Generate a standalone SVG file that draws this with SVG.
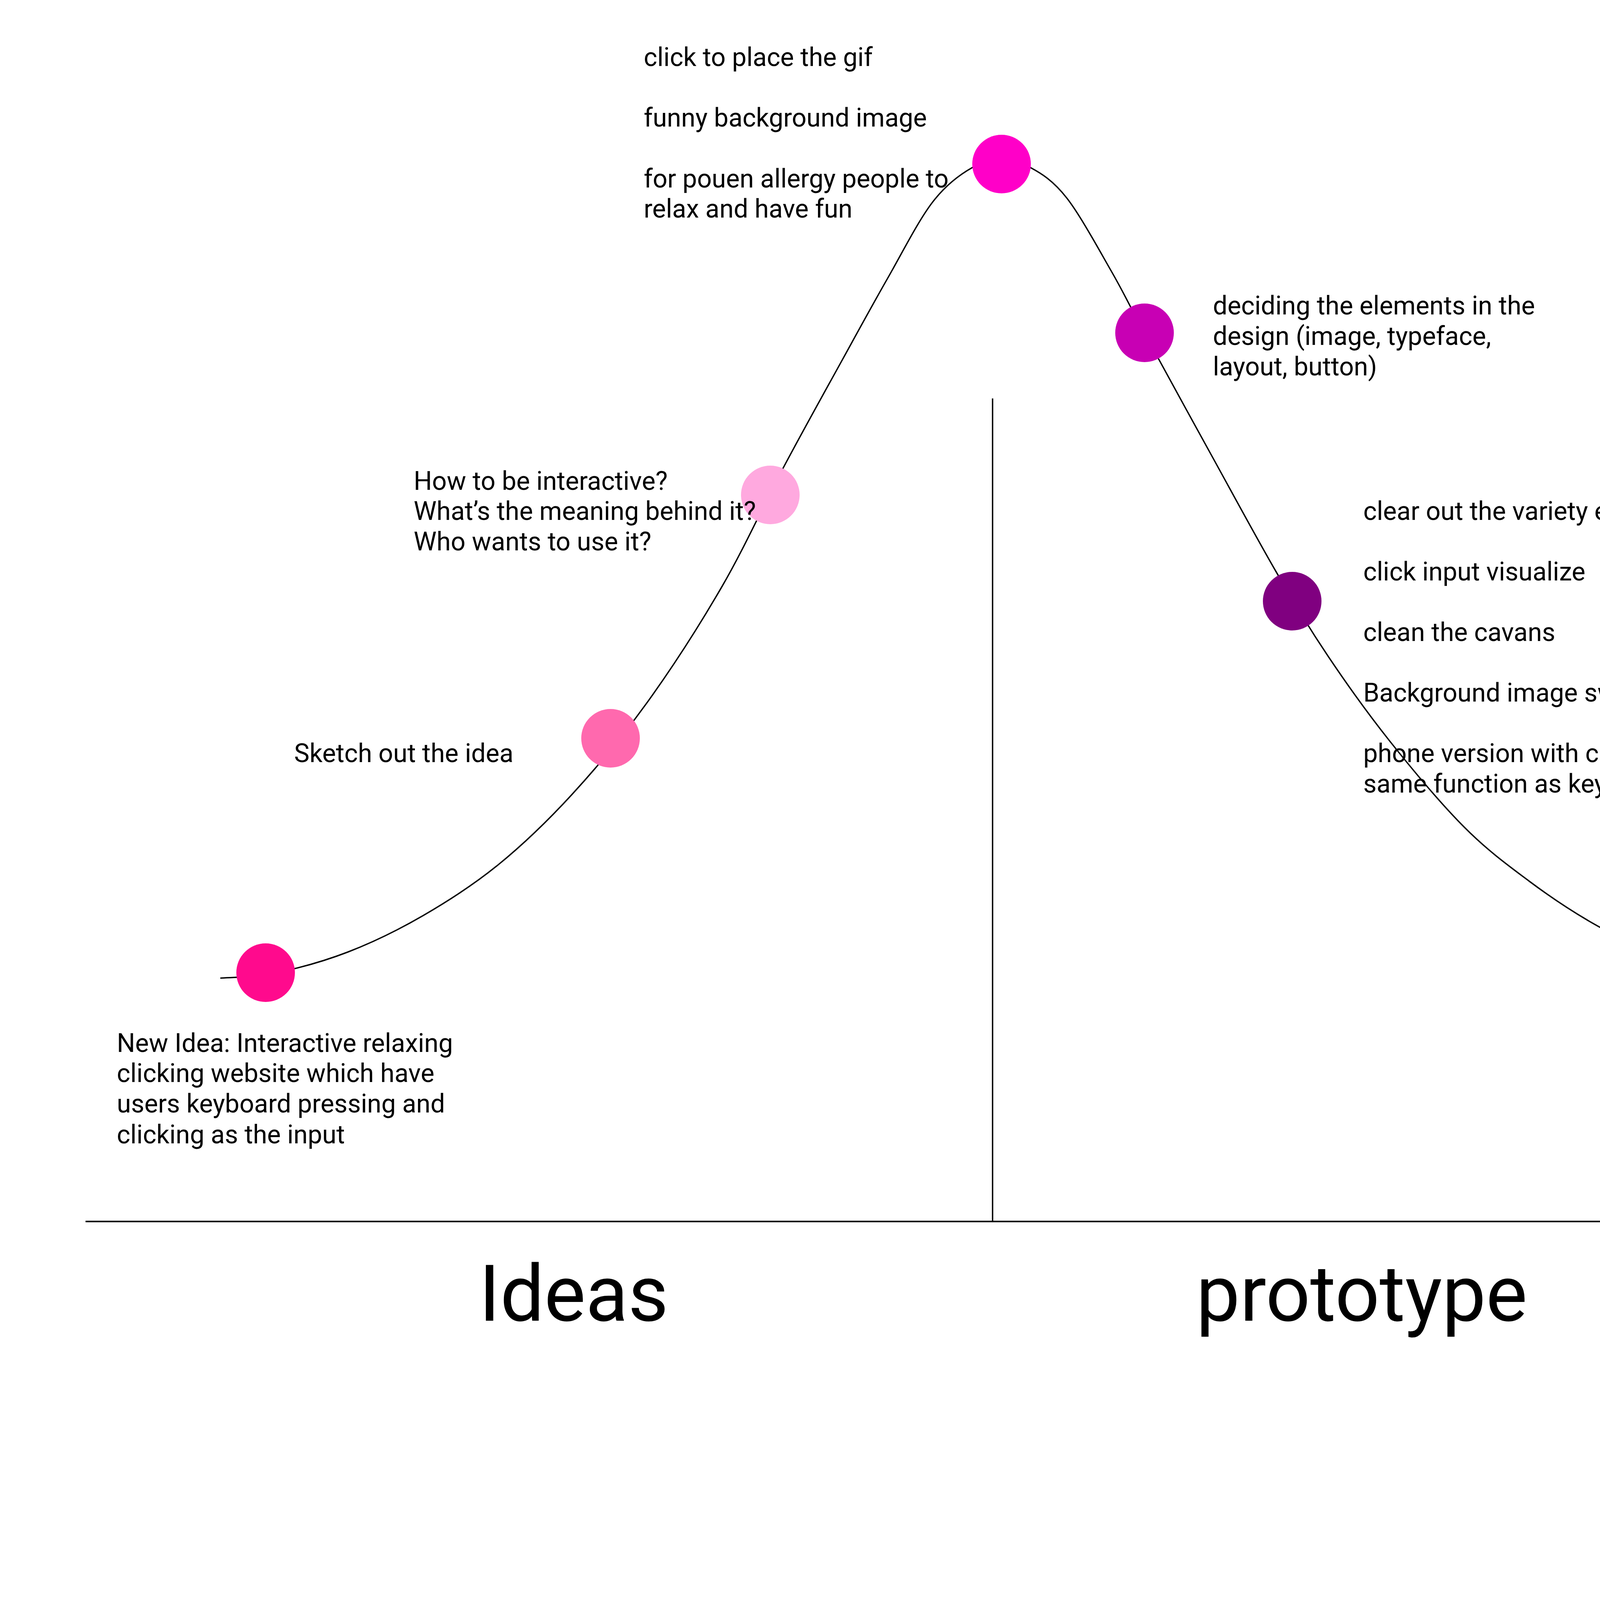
<svg xmlns="http://www.w3.org/2000/svg" width="5125" height="4162" viewBox="0 0 5125 4162">
<style>
text{font-family:Roboto,"Liberation Sans",Arial,sans-serif;fill:#000;}
.t{font-size:66px;}
.big{font-size:200px;}
.ln{fill:none;stroke:#000;stroke-linecap:butt;}
</style>
<rect x="0" y="0" width="5125" height="4162" fill="#ffffff"/>
<g id="connectors">
<line class="ln" x1="219" y1="3127" x2="4756" y2="3127" stroke-width="4"/>
<line class="ln" x1="2541" y1="1020" x2="2541" y2="3127" stroke-width="3.5"/>
<path class="ln" stroke-width="3.5" stroke-linejoin="round" d="M564,2504 C587,2502 645.5,2503.2 700,2492 S827.2,2461.7 891,2437 S1019.2,2381 1083,2344 S1210.3,2266.8 1274,2215 S1401.2,2102.5 1465,2033 S1593.2,1886.5 1657,1798 S1789.8,1602.3 1848,1502 S1954.5,1293 2006,1196 S2112.7,1000.5 2157,920 S2233.7,780 2272,713 S2350.8,565.3 2387,518 S2459.3,445.7 2489,429 S2540.2,418 2565,418 S2610.3,414.2 2638,429 S2696.3,462.5 2731,507 S2812.8,638.3 2846,696 S2887.7,775.2 2930,853 S3043.8,1061.2 3100,1163 S3217,1377.8 3267,1464 S3351.2,1607.3 3400,1680 S3501.8,1827 3560,1900 S3689.8,2058.7 3749,2118 S3859.8,2214.8 3915,2256 S4024.8,2333.5 4080,2365 S4193,2424.7 4246,2445 S4345.2,2477.7 4398,2487 S4535.5,2498.7 4563,2501"/>
</g>
<g id="node-new-idea">
<circle cx="680" cy="2490" r="75" fill="#FF0A8D"/>
<text class="t" x="299"><tspan x="299" y="2693">New Idea: Interactive relaxing</tspan><tspan x="299" y="2770">clicking website which have</tspan><tspan x="299" y="2848">users keyboard pressing and</tspan><tspan x="299" y="2927">clicking as the input</tspan></text>
</g>
<g id="node-sketch">
<circle cx="1563" cy="1890" r="75" fill="#FF69AE"/>
<text class="t" x="753" y="1951">Sketch out the idea</text>
</g>
<g id="node-questions">
<circle cx="1972" cy="1267" r="75" fill="#FFA9DF"/>
<text class="t"><tspan x="1059" y="1254">How to be interactive?</tspan><tspan x="1059" y="1331">What’s the meaning behind it?</tspan><tspan x="1059" y="1409">Who wants to use it?</tspan></text>
</g>
<g id="node-peak">
<circle cx="2564" cy="420" r="75" fill="#FF00C8"/>
<text class="t"><tspan x="1648" y="169">click to place the gif</tspan><tspan x="1648" y="324">funny background image</tspan><tspan x="1648" y="480">for pouen allergy people to</tspan><tspan x="1648" y="557">relax and have fun</tspan></text>
</g>
<g id="node-elements">
<circle cx="2930" cy="852" r="75" fill="#C800B4"/>
<text class="t"><tspan x="3105" y="805">deciding the elements in the</tspan><tspan x="3105" y="883">design (image, typeface,</tspan><tspan x="3105" y="961">layout, button)</tspan></text>
</g>
<g id="node-refine">
<circle cx="3308" cy="1539" r="75" fill="#800080"/>
<text class="t"><tspan x="3490" y="1331">clear out the variety elements</tspan><tspan x="3490" y="1486">click input visualize</tspan><tspan x="3490" y="1641">clean the cavans</tspan><tspan x="3490" y="1796">Background image swap</tspan><tspan x="3490" y="1951">phone version with clickable button serve as the</tspan><tspan x="3490" y="2029">same function as keyboard setting</tspan></text>
</g>
<g id="node-finished">
<circle cx="4472" cy="2507" r="75" fill="#6A0035"/>
<text class="t" x="4143" y="2692">Nearly finished code</text>
</g>
<g id="label-ideas">
<text class="big" x="1226" y="3381">Ideas</text>
</g>
<g id="label-prototype">
<text class="big" x="3062" y="3381">prototype</text>
</g>
</svg>
